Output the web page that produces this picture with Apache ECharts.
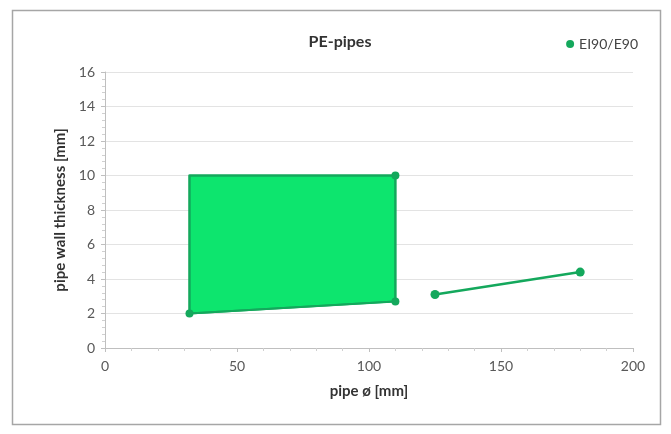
<!DOCTYPE html>
<html>
<head>
<meta charset="utf-8">
<script src="https://cdn.jsdelivr.net/npm/echarts@6/dist/echarts.min.js"></script>
<style>html,body{margin:0;padding:0;background:#fff}#c{width:671px;height:434px}</style>
</head>
<body>
<div id="c"></div>
<script>
var seriesName = 'EI90/E90';
var polyX = [32, 110, 110, 32];
var polyY = [2, 2.7, 10, 10];
var lineX = [125, 180];
var lineY = [3.1, 4.4];
var xTicks = [0, 50, 100, 150, 200];
var yTicks = [0, 2, 4, 6, 8, 10, 12, 14, 16];

var FONT = 'Lato, "Open Sans", sans-serif';
var polyPts = polyX.map(function (x, i) { return [x, polyY[i]]; });
var outline = polyPts.concat([polyPts[0]]).map(function (p, i) {
  var hidden = (i === 3 || i === 4);
  return { value: p, symbolSize: hidden ? 0 : 8 };
});
var linePts = lineX.map(function (x, i) { return [x, lineY[i]]; });

var chart = echarts.init(document.getElementById('c'));
chart.setOption({
  animation: false,
  graphic: [{
    type: 'rect', shape: { x: 12.5, y: 10.5, width: 648, height: 414 },
    style: { fill: 'none', stroke: '#a6a6a6', lineWidth: 1.5 }, z: -10
  }],
  title: {
    text: 'PE-pipes', left: 335, top: 29, textAlign: 'center',
    textStyle: { fontFamily: FONT, fontSize: 16, fontWeight: 'bold', color: '#333' }
  },
  legend: {
    right: 28, top: 32, icon: 'circle', itemWidth: 8, itemHeight: 8, itemGap: 4,
    textStyle: { fontFamily: FONT, fontSize: 14, color: '#444' },
    data: [seriesName]
  },
  grid: { left: 105, right: 38, top: 72, bottom: 86 },
  xAxis: {
    type: 'value', min: xTicks[0], max: xTicks[xTicks.length - 1], interval: 50,
    name: 'pipe ø [mm]', nameLocation: 'middle', nameGap: 36,
    nameTextStyle: { fontFamily: FONT, fontSize: 15, fontWeight: 'bold', color: '#333' },
    axisLine: { show: true, lineStyle: { color: '#bfbfbf' } },
    axisTick: { show: true, length: 4, lineStyle: { color: '#bfbfbf' } },
    minorTick: { show: true, splitNumber: 5, length: 3, lineStyle: { color: '#d0d0d0' } },
    axisLabel: { fontFamily: FONT, fontSize: 14, color: '#595959', margin: 11 },
    splitLine: { show: false }
  },
  yAxis: {
    type: 'value', min: yTicks[0], max: yTicks[yTicks.length - 1], interval: 2,
    name: 'pipe wall thickness [mm]', nameLocation: 'middle', nameGap: 30,
    nameTextStyle: { fontFamily: FONT, fontSize: 15, fontWeight: 'bold', color: '#333' },
    axisLine: { show: true, lineStyle: { color: '#bfbfbf' } },
    axisTick: { show: true, length: 4, lineStyle: { color: '#bfbfbf' } },
    minorTick: { show: true, splitNumber: 5, length: 3, lineStyle: { color: '#d0d0d0' } },
    axisLabel: { fontFamily: FONT, fontSize: 14, color: '#595959', margin: 10 },
    splitLine: { show: true, lineStyle: { color: '#e3e3e3' } }
  },
  series: [{
    name: seriesName, type: 'custom', data: polyPts, z: 2,
    itemStyle: { color: '#14a85c' },
    renderItem: function (params, api) {
      if (params.dataIndex !== 0) return null;
      var pts = polyPts.map(function (p) { return api.coord(p); });
      return { type: 'polygon', shape: { points: pts },
        style: { fill: '#0de56e', stroke: '#14a85c', lineWidth: 2 } };
    }
  }, {
    name: seriesName, type: 'line', data: outline, z: 3,
    symbol: 'circle', showSymbol: true,
    lineStyle: { color: '#14a85c', width: 2 },
    itemStyle: { color: '#14a85c' }
  }, {
    name: seriesName, type: 'line', data: linePts, z: 3,
    symbol: 'circle', symbolSize: 9,
    lineStyle: { color: '#14a85c', width: 2.5 },
    itemStyle: { color: '#14a85c' }
  }]
});
</script>
</body>
</html>
